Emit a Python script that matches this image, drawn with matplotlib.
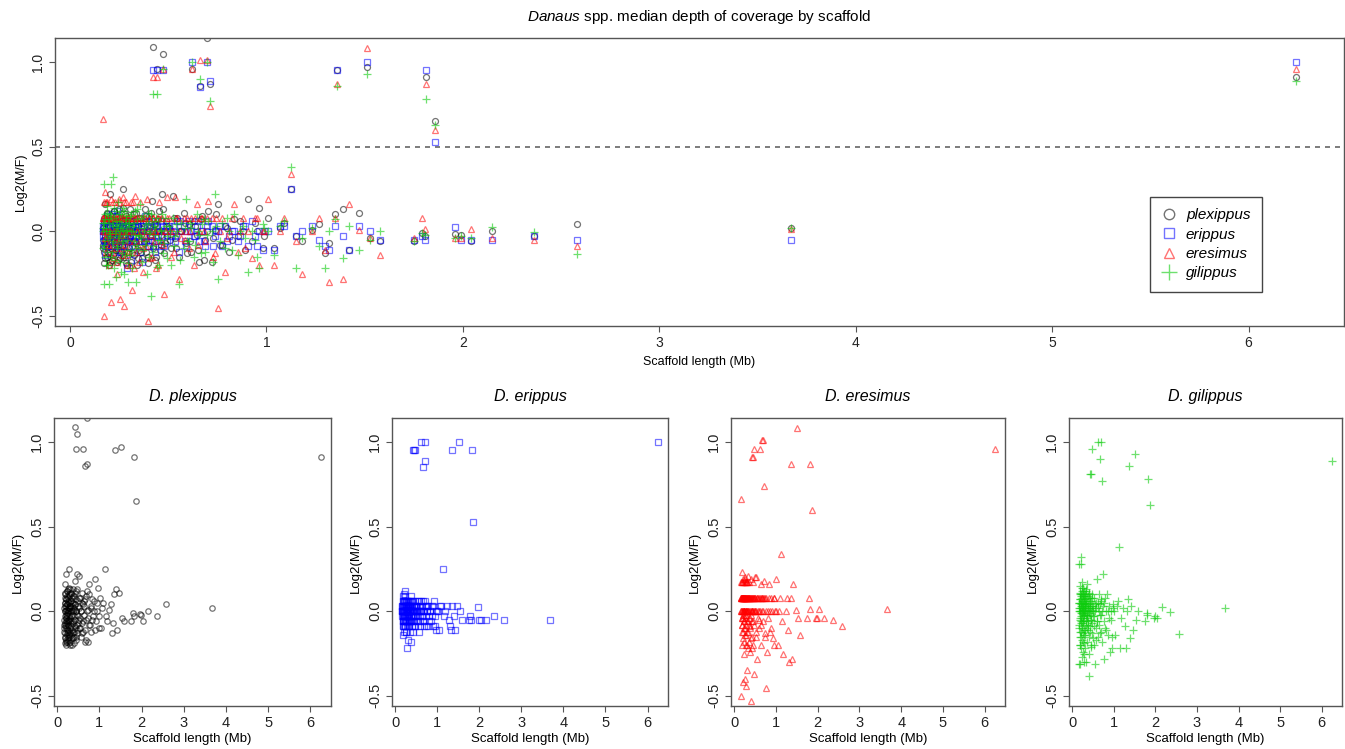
import matplotlib
matplotlib.use("Agg")
import matplotlib.pyplot as plt
from matplotlib.lines import Line2D

plt.rcParams['font.family'] = ['Liberation Sans', 'DejaVu Sans']
plt.rcParams['mathtext.fontset'] = 'custom'
plt.rcParams['mathtext.rm'] = 'Liberation Sans'
plt.rcParams['mathtext.it'] = 'Liberation Sans:italic'

# ---------------- data (scaffold length in Mb, Log2(M/F) per species) -------------
scaffold_mb = [
    # 0.17 - 0.30 Mb
    0.167, 0.169, 0.171, 0.174, 0.175, 0.178, 0.181, 0.183, 0.186, 0.188, 0.191, 0.194,
    0.197, 0.199, 0.202, 0.205, 0.207, 0.211, 0.214, 0.216, 0.219, 0.223, 0.226, 0.228,
    0.232, 0.235, 0.238, 0.241, 0.243, 0.247, 0.250, 0.254, 0.256, 0.259, 0.263, 0.266,
    0.268, 0.272, 0.276, 0.279, 0.281, 0.285, 0.288, 0.291, 0.294, 0.297,
    # 0.30 - 0.50 Mb
    0.301, 0.305, 0.309, 0.312, 0.316, 0.321, 0.324, 0.329, 0.333, 0.338, 0.342, 0.346,
    0.351, 0.355, 0.361, 0.366, 0.371, 0.376, 0.382, 0.387, 0.393, 0.398, 0.404, 0.411,
    0.417, 0.424, 0.431, 0.438, 0.446, 0.453, 0.462, 0.471, 0.479, 0.488, 0.496,
    # 0.50 - 0.75 Mb
    0.505, 0.514, 0.523, 0.534, 0.545, 0.556, 0.567, 0.579, 0.591, 0.604, 0.617, 0.631,
    0.645, 0.659, 0.674, 0.689, 0.705, 0.721, 0.738,
    # 0.75 - 1.0 Mb
    0.755, 0.772, 0.791, 0.812, 0.834, 0.857, 0.881, 0.906, 0.927, 0.944, 0.962, 0.981,
    # 1.0 - 1.6 Mb
    1.01, 1.04, 1.07, 1.09, 1.15, 1.18, 1.23, 1.27, 1.30, 1.32, 1.35, 1.39, 1.42, 1.47,
    1.53, 1.58,
    # 1.6 - 3.7 Mb
    1.75, 1.79, 1.81, 1.96, 1.99, 2.04, 2.15, 2.36, 2.58, 3.67,
    # more short scaffolds 0.17 - 0.35 Mb
    0.168, 0.173, 0.177, 0.180, 0.184, 0.189, 0.193, 0.196, 0.201, 0.204,
    0.209, 0.213, 0.218, 0.221, 0.225, 0.230, 0.234, 0.237, 0.240, 0.245,
    0.249, 0.252, 0.258, 0.261, 0.265, 0.270, 0.274, 0.278, 0.283, 0.287,
    0.292, 0.296, 0.303, 0.308, 0.314, 0.319, 0.327, 0.335, 0.340, 0.348,
    # more 0.35 - 0.6 Mb
    0.356, 0.364, 0.373, 0.379, 0.385, 0.395, 0.401, 0.408, 0.415, 0.421, 0.428, 0.435,
    0.442, 0.450, 0.458, 0.466, 0.475, 0.484, 0.492, 0.510, 0.528, 0.541, 0.562, 0.584,
    0.598,
    # more 0.6 - 1.0 Mb
    0.612, 0.638, 0.652, 0.667, 0.682, 0.697, 0.728, 0.746, 0.764, 0.801, 0.823, 0.868,
    0.893, 0.952, 0.990,
    # high (Z-like) scaffolds
    0.170, 0.425, 0.445, 0.475, 0.620, 0.660, 0.700, 0.715, 1.125, 1.360, 1.510, 1.815,
    1.860, 6.240,
]

plexippus = [
    -0.05, 0.02, -0.12, 0.08, -0.19, 0.16, -0.03, 0.05, -0.08, -0.15, 0.11, 0.0,
    -0.06, -0.2, 0.03, 0.22, -0.1, -0.02, 0.07, -0.17, -0.04, 0.12, -0.13, 0.01,
    -0.07, 0.09, -0.18, -0.01, 0.04, -0.11, 0.13, -0.05, -0.16, 0.06, -0.09, 0.0,
    0.25, -0.14, 0.02, -0.03, 0.1, -0.19, -0.06, 0.05, -0.12, 0.03,
    -0.04, 0.13, -0.18, 0.02, -0.09, 0.06, -0.14, 0.0, -0.06, 0.11, -0.2, 0.03,
    -0.11, 0.08, -0.02, -0.16, 0.05, -0.07, 0.13, -0.12, 0.01, -0.19, 0.09, -0.05,
    0.18, -0.1, 0.04, -0.15, 0.0, 0.12, -0.08, 0.22, -0.13, 0.06, -0.03,
    0.02, -0.1, 0.21, -0.04, 0.08, -0.15, 0.0, 0.11, -0.07, 0.04, -0.12, 0.06,
    -0.02, -0.18, 0.09, -0.05, 0.12, -0.18, 0.01,
    0.16, -0.08, 0.03, -0.12, 0.07, -0.03, 0.0, 0.19, -0.06, 0.05, 0.14, -0.1,
    0.08, -0.1, 0.02, 0.05, -0.03, -0.06, 0.01, 0.04, -0.13, -0.07, 0.1, 0.13,
    -0.11, 0.11, -0.04, -0.06,
    -0.06, -0.01, -0.03, -0.016, -0.02, -0.06, 0.0, -0.026, 0.043, 0.018,
    -0.1, 0.05, -0.16, 0.0, -0.07, 0.1, -0.13, 0.03, -0.04, -0.18,
    0.07, -0.09, 0.01, -0.14, 0.12, -0.02, -0.11, 0.04, -0.06, -0.17,
    0.08, -0.01, -0.12, 0.02, -0.08, 0.14, -0.15, 0.0, -0.05, 0.09,
    -0.2, 0.03, -0.1, 0.06, -0.13, -0.03, 0.1, -0.07, 0.01, -0.16,
    0.05, -0.12, 0.0, -0.06, 0.09, -0.15, 0.02, -0.03, 0.11, -0.09, 0.04, -0.17,
    0.0, 0.07, -0.11, -0.02, 0.13, -0.07, 0.03, -0.05, 0.08, -0.1, 0.0, 0.05,
    -0.13,
    -0.06, 0.03, -0.11, 0.07, -0.17, 0.0, -0.04, 0.1, -0.08, 0.02, -0.05, 0.06,
    -0.11, 0.0, -0.03,
    -0.08, 1.09, 0.96, 1.05, 0.96, 0.86, 1.14, 0.87, 0.25, 0.95, 0.97, 0.91,
    0.65, 0.91,
]

erippus = [
    0.03, -0.03, 0.0, -0.06, 0.06, -0.09, -0.14, 0.03, 0.0, -0.03, 0.09, -0.06,
    0.0, 0.03, -0.12, -0.03, 0.06, 0.0, -0.09, 0.1, -0.03, 0.03, -0.06, 0.0,
    0.06, -0.03, 0.12, 0.0, -0.09, 0.03, -0.06, -0.12, 0.0, 0.06, -0.03, 0.03,
    -0.06, 0.0, -0.09, 0.03, 0.06, -0.03, 0.0, -0.22, 0.03, -0.06,
    0.0, -0.03, 0.06, -0.17, 0.03, -0.06, 0.0, -0.09, 0.03, -0.03, 0.06, 0.0,
    -0.06, -0.12, 0.03, -0.18, 0.0, -0.03, 0.09, -0.06, 0.03, 0.0, -0.09, 0.06,
    -0.03, 0.0, -0.12, 0.03, -0.06, 0.0, 0.06, -0.03, -0.09, 0.03, 0.0,
    0.03, -0.03, 0.0, -0.06, 0.06, -0.12, 0.0, 0.03, -0.09, 0.06, 0.0, -0.03,
    0.03, -0.06, 0.0, -0.09, 0.06, 0.03, -0.03,
    0.0, -0.09, 0.03, -0.03, 0.0, -0.06, 0.03, -0.09, 0.06, -0.03, 0.0, -0.11,
    0.0, -0.11, 0.03, 0.03, -0.03, 0.0, 0.03, -0.05, -0.09, -0.11, 0.03, -0.03,
    -0.11, 0.03, 0.0, -0.05,
    -0.05, -0.03, -0.05, 0.025, -0.05, -0.05, -0.05, -0.03, -0.05, -0.05,
    0.0, 0.03, -0.03, -0.06, 0.06, 0.0, -0.09, 0.03, -0.03, 0.0,
    0.06, -0.06, 0.03, 0.0, -0.03, -0.09, 0.03, 0.09, -0.06, 0.0,
    0.03, -0.03, 0.0, -0.12, 0.06, 0.03, -0.03, 0.0, -0.06, 0.03,
    0.0, -0.09, -0.03, 0.06, 0.0, 0.03, -0.06, -0.03, 0.0, 0.03,
    0.0, -0.06, 0.03, -0.03, 0.06, -0.09, 0.0, 0.03, -0.03, 0.0, -0.06, 0.06,
    0.03, -0.03, 0.0, -0.09, 0.03, 0.0, -0.06, 0.0, 0.03, -0.03, 0.06, -0.06,
    0.0,
    0.0, -0.03, 0.06, 0.0, -0.06, 0.03, -0.09, 0.0, 0.03, -0.06, 0.0, -0.03,
    0.03, -0.09, 0.0,
    0.0, 0.95, 0.95, 0.95, 1.0, 0.85, 1.0, 0.89, 0.25, 0.95, 1.0, 0.95,
    0.53, 1.0,
]

eresimus = [
    0.078, 0.0, 0.17, -0.5, 0.078, -0.04, 0.23, 0.078, -0.12, 0.0, 0.17, 0.078,
    -0.08, -0.2, 0.078, 0.0, -0.42, 0.19, 0.078, -0.04, -0.16, 0.078, 0.0, 0.17,
    -0.1, 0.078, -0.25, 0.0, 0.078, -0.06, 0.17, -0.4, 0.078, -0.02, -0.14, 0.078,
    0.2, 0.0, -0.44, 0.078, -0.08, 0.17, -0.2, 0.078, 0.0, -0.12,
    0.078, -0.2, 0.17, 0.0, -0.35, 0.078, -0.06, 0.21, 0.078, -0.12, 0.0, 0.078,
    -0.18, 0.17, -0.04, 0.078, -0.24, 0.0, 0.078, -0.09, 0.19, -0.53, 0.078, -0.02,
    -0.15, 0.078, 0.0, -0.22, 0.078, 0.17, -0.06, 0.078, -0.37, 0.0, 0.2,
    0.078, -0.15, 0.0, 0.2, 0.078, -0.28, -0.04, 0.078, 0.0, -0.1, 0.078, -0.2,
    0.16, 0.0, 0.078, -0.06, 0.18, 0.078, -0.13,
    -0.455, 0.078, -0.24, 0.0, 0.16, -0.12, 0.078, 0.0, -0.16, 0.078, -0.2, 0.0,
    0.19, -0.2, 0.0, 0.078, -0.06, -0.25, 0.0, 0.078, -0.11, -0.3, 0.078, -0.28,
    0.16, 0.01, -0.04, -0.14,
    -0.04, 0.08, 0.016, -0.04, -0.04, 0.016, -0.04, -0.05, -0.09, 0.012,
    0.078, 0.0, -0.04, 0.078, 0.17, 0.0, -0.08, 0.078, -0.02, 0.0,
    0.078, -0.12, 0.17, 0.078, 0.0, -0.06, 0.078, -0.18, 0.0, 0.078,
    0.19, -0.04, 0.078, 0.0, -0.1, 0.078, 0.17, -0.02, 0.078, 0.0,
    -0.14, 0.078, -0.06, 0.0, 0.078, 0.17, -0.22, 0.078, 0.0, -0.08,
    0.078, 0.0, -0.1, 0.078, -0.04, 0.0, 0.078, -0.16, 0.0, 0.078, -0.06, 0.0,
    0.078, -0.2, 0.0, 0.078, -0.08, 0.0, 0.078, 0.0, -0.12, 0.078, 0.0, -0.05,
    0.078,
    0.0, 0.078, -0.08, 0.078, 0.0, 0.078, -0.15, 0.078, 0.0, -0.04, 0.078, 0.0,
    -0.1, 0.078, 0.0,
    0.666, 0.91, 0.91, 0.957, 0.96, 1.01, 1.01, 0.74, 0.34, 0.87, 1.08, 0.87,
    0.60, 0.957,
]

gilippus = [
    0.0, -0.1, 0.28, 0.05, -0.31, 0.1, -0.05, -0.2, 0.02, 0.15, -0.12, 0.07,
    -0.31, 0.0, -0.03, 0.1, -0.15, 0.28, -0.07, 0.04, 0.32, -0.22, 0.08, -0.01,
    -0.27, 0.12, 0.03, -0.09, 0.17, -0.04, 0.06, -0.18, 0.0, 0.1, -0.13, 0.02,
    -0.06, 0.14, -0.25, 0.05, -0.02, 0.09, -0.11, 0.01, -0.3, 0.04,
    0.05, -0.14, 0.0, 0.1, -0.22, 0.03, -0.06, 0.12, -0.02, -0.3, 0.07, -0.1,
    0.02, 0.16, -0.04, -0.18, 0.09, 0.0, -0.08, 0.04, -0.25, 0.11, -0.01, -0.38,
    0.06, -0.12, 0.02, 0.08, -0.05, -0.2, 0.0, 0.1, -0.07, 0.03, -0.16,
    0.03, -0.2, 0.08, -0.03, 0.0, -0.31, 0.05, -0.1, 0.19, -0.06, 0.02, -0.15,
    0.1, -0.02, 0.04, -0.12, 0.06, 0.0, 0.22,
    -0.28, 0.05, -0.1, 0.0, 0.1, -0.14, 0.03, -0.24, 0.0, -0.05, -0.22, 0.04,
    0.0, -0.14, 0.03, 0.06, -0.22, -0.04, 0.02, -0.09, -0.22, 0.0, 0.07, -0.16,
    0.03, -0.11, -0.05, 0.0,
    -0.06, -0.01, -0.02, -0.04, -0.03, -0.04, 0.028, -0.006, -0.135, 0.018,
    0.02, -0.08, 0.07, -0.15, 0.0, 0.11, -0.04, -0.2, 0.05, -0.01,
    0.09, -0.12, 0.03, -0.06, 0.14, -0.17, 0.0, 0.06, -0.1, 0.02,
    -0.03, 0.1, -0.24, 0.04, -0.07, 0.01, 0.12, -0.14, 0.0, 0.07,
    -0.05, -0.19, 0.03, 0.09, -0.11, 0.0, 0.05, -0.08, 0.13, -0.02,
    -0.03, 0.08, -0.11, 0.02, -0.06, 0.05, -0.15, 0.0, 0.1, -0.09, 0.03, -0.02,
    -0.21, 0.06, -0.05, 0.01, -0.13, 0.08, -0.03, 0.0, -0.09, 0.04, -0.17, 0.02,
    -0.06,
    0.05, -0.08, 0.0, -0.13, 0.07, -0.02, -0.18, 0.03, -0.06, 0.08, -0.11, 0.0,
    -0.04, -0.15, 0.02,
    0.05, 0.81, 0.81, 0.96, 1.0, 0.90, 1.0, 0.77, 0.38, 0.86, 0.93, 0.78,
    0.63, 0.89,
]

species_names = ['plexippus', 'erippus', 'eresimus', 'gilippus']
panel_titles = ['D. plexippus', 'D. erippus', 'D. eresimus', 'D. gilippus']
x_ticks = [0, 1, 2, 3, 4, 5, 6]
y_ticks = [-0.5, 0.0, 0.5, 1.0]
y_ticklabels = ['-0.5', '0.0', '0.5', '1.0']
threshold = 0.5

# ---------------- styling -------------
values = [plexippus, erippus, eresimus, gilippus]
colors = [(0, 0, 0, 0.55), (0, 0, 1, 0.55), (1, 0, 0, 0.55), (0.05, 0.8, 0.05, 0.6)]
markers = ['o', 's', '^', '+']
XLIM = (-0.076, 6.486)
YLIM = (-0.56, 1.142)
FRAME = '#555555'

fig = plt.figure(figsize=(13.45, 7.49), dpi=100)
W, H = 1345.0, 749.0


def make_axes(l, t, r, b):
    return fig.add_axes([l / W, 1 - b / H, (r - l) / W, (b - t) / H])


def style(ax, tick_fs):
    ax.set_xlim(*XLIM)
    ax.set_ylim(*YLIM)
    ax.set_xticks(x_ticks)
    ax.set_xticklabels([str(t) for t in x_ticks])
    ax.set_yticks(y_ticks)
    ax.set_yticklabels(y_ticklabels, rotation=90, va='center')
    for s in ax.spines.values():
        s.set_color(FRAME)
        s.set_linewidth(1.0)
    ax.tick_params(direction='out', length=4, width=0.8, color=FRAME,
                   labelsize=tick_fs, labelcolor='#222222', pad=3)


def draw(ax, xs, ys, marker, color, ms):
    if marker == '+':
        ax.plot(xs, ys, linestyle='none', marker='+', color=color, ms=ms + 1.5,
                mew=0.9)
    else:
        ax.plot(xs, ys, linestyle='none', marker=marker, mfc='none', mec=color,
                ms=ms, mew=0.9)


# ---- top combined panel ----
ax = make_axes(55, 38, 1344, 326)
style(ax, 10)
ax.axhline(threshold, color='#666666', lw=1.2, linestyle=(0, (3, 3)))
for ys, m, c in zip(values, markers, colors):
    draw(ax, scaffold_mb, ys, m, c, 4.3)
ax.set_title(r'$\it{Danaus}$ spp. median depth of coverage by scaffold',
             fontsize=11, pad=12)
ax.set_xlabel('Scaffold length (Mb)', fontsize=9)
ax.xaxis.set_label_coords(0.5, -0.105)
ax.set_ylabel('Log2(M/F)', fontsize=9)
ax.yaxis.set_label_coords(-28.0 / 1289.0, 0.5)

handles = []
for name, m, c in zip(species_names, markers, colors):
    if m == '+':
        h = Line2D([], [], linestyle='none', marker='+', color=c, ms=11, mew=1.0)
    else:
        h = Line2D([], [], linestyle='none', marker=m, mfc='none', mec=c, ms=7.5, mew=1.0)
    handles.append(h)
leg = ax.legend(handles, species_names, loc='upper left',
                bbox_to_anchor=((1150 - 55) / 1289.0, (326 - 197) / 288.0),
                frameon=True, fancybox=False, framealpha=1, edgecolor='#444444',
                prop={'style': 'italic', 'size': 11}, handlelength=1.0,
                handletextpad=0.6, labelspacing=0.35, borderpad=0.75,
                borderaxespad=0)
leg.get_frame().set_linewidth(1.0)

# ---- bottom per-species panels ----
panel_px = [(54, 331), (392, 668), (731, 1005), (1069, 1342)]
for (l, r), ys, m, c, title in zip(panel_px, values, markers, colors, panel_titles):
    a = make_axes(l, 418, r, 706)
    style(a, 10.5)
    draw(a, scaffold_mb, ys, m, c, 3.9)
    a.set_title(title, fontsize=11.5, style='italic', pad=12)
    a.set_xlabel('Scaffold length (Mb)', fontsize=9.5)
    a.xaxis.set_label_coords(0.5, -0.095)
    a.set_ylabel('Log2(M/F)', fontsize=9.5)
    a.yaxis.set_label_coords(-30.0 / float(r - l), 0.5)

fig.savefig('out.png', dpi=100)
